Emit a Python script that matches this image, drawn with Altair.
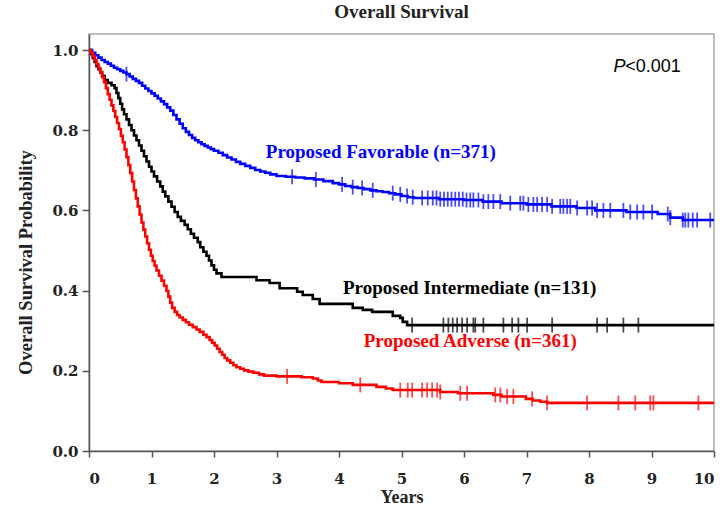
import altair as alt
import numpy as np
import pandas as pd

# ---- Kaplan-Meier step data ----
fav_t = [0, 0.05, 0.1, 0.15, 0.2, 0.25, 0.3, 0.35, 0.4, 0.45, 0.5, 0.55, 0.6, 0.65, 0.7, 0.75, 0.8, 0.85,
         0.9, 0.95, 1.0, 1.05, 1.1, 1.15, 1.2, 1.25, 1.3, 1.35, 1.4, 1.45, 1.5, 1.55, 1.6, 1.65, 1.7, 1.75,
         1.8, 1.85, 1.9, 1.95, 2.0, 2.07, 2.14, 2.21, 2.28, 2.35, 2.42, 2.5, 2.58, 2.66, 2.74, 2.82, 2.9,
         3.0, 3.15, 3.3, 3.45, 3.6, 3.75, 3.9, 4.0, 4.1, 4.2, 4.3, 4.4, 4.5, 4.6, 4.7, 4.8, 4.9, 5.0, 5.1,
         5.2, 5.6, 6.0, 6.3, 6.6, 7.0, 7.4, 7.8, 8.1, 8.6, 9.1, 9.3, 9.5, 10.0]
fav_s = [1.0, 0.993, 0.987, 0.981, 0.975, 0.97, 0.966, 0.961, 0.956, 0.952, 0.948, 0.944, 0.94, 0.934,
         0.928, 0.923, 0.918, 0.911, 0.904, 0.898, 0.892, 0.886, 0.879, 0.872, 0.865, 0.857, 0.849, 0.838,
         0.827, 0.816, 0.805, 0.796, 0.788, 0.781, 0.775, 0.77, 0.765, 0.761, 0.757, 0.753, 0.749, 0.744,
         0.738, 0.732, 0.727, 0.721, 0.716, 0.711, 0.706, 0.701, 0.697, 0.694, 0.69, 0.686, 0.684, 0.682,
         0.68, 0.677, 0.673, 0.668, 0.665, 0.661, 0.658, 0.656, 0.653, 0.65, 0.648, 0.646, 0.643, 0.64,
         0.636, 0.633, 0.631, 0.628, 0.626, 0.622, 0.618, 0.615, 0.61, 0.606, 0.6, 0.596, 0.591, 0.582,
         0.576, 0.576]
fav_c = [0.6, 3.25, 3.63, 4.05, 4.22, 4.37, 4.54, 4.86, 4.98, 5.09, 5.18, 5.33, 5.42, 5.5, 5.56, 5.62, 5.68,
         5.74, 5.8, 5.86, 5.92, 5.98, 6.04, 6.1, 6.15, 6.23, 6.31, 6.39, 6.47, 6.58, 6.74, 6.9, 6.95, 7.03,
         7.11, 7.17, 7.25, 7.33, 7.41, 7.54, 7.59, 7.65, 7.7, 7.81, 7.97, 8.05, 8.13, 8.23, 8.34, 8.55, 8.66,
         8.77, 8.87, 9.01, 9.26, 9.3, 9.5, 9.54, 9.59, 9.66, 9.73, 9.94]

int_t = [0, 0.03, 0.06, 0.09, 0.12, 0.15, 0.18, 0.21, 0.25, 0.3, 0.36, 0.41, 0.44, 0.47, 0.5, 0.53, 0.56,
         0.6, 0.64, 0.68, 0.72, 0.76, 0.8, 0.84, 0.88, 0.92, 0.96, 1.0, 1.04, 1.09, 1.14, 1.18, 1.22, 1.27,
         1.32, 1.37, 1.42, 1.47, 1.53, 1.58, 1.63, 1.68, 1.74, 1.78, 1.83, 1.88, 1.92, 1.96, 2.0, 2.04,
         2.12, 2.68, 2.89, 3.05, 3.33, 3.42, 3.58, 3.69, 4.22, 4.38, 4.53, 4.86, 4.98, 5.02, 5.09, 10.0]
int_s = [1.0, 0.99, 0.98, 0.97, 0.96, 0.952, 0.944, 0.935, 0.925, 0.918, 0.912, 0.905, 0.893, 0.88, 0.866,
         0.852, 0.84, 0.827, 0.813, 0.8, 0.787, 0.775, 0.762, 0.749, 0.735, 0.722, 0.709, 0.697, 0.685,
         0.672, 0.66, 0.647, 0.635, 0.622, 0.609, 0.596, 0.584, 0.574, 0.564, 0.553, 0.542, 0.532, 0.521,
         0.508, 0.497, 0.487, 0.475, 0.463, 0.452, 0.443, 0.434, 0.426, 0.419, 0.406, 0.397, 0.389, 0.379,
         0.367, 0.357, 0.352, 0.347, 0.337, 0.332, 0.322, 0.314, 0.314]
int_c = [5.17, 5.67, 5.75, 5.82, 5.89, 5.97, 6.05, 6.15, 6.18, 6.31, 6.63, 6.77, 6.87, 7.01, 7.41, 8.13,
         8.29, 8.55, 8.79]

adv_t = [0, 0.03, 0.06, 0.09, 0.12, 0.15, 0.18, 0.21, 0.24, 0.27, 0.3, 0.33, 0.36, 0.39, 0.42, 0.45, 0.48,
         0.51, 0.54, 0.57, 0.6, 0.63, 0.66, 0.69, 0.72, 0.75, 0.78, 0.81, 0.84, 0.87, 0.9, 0.93, 0.96, 0.99,
         1.02, 1.05, 1.08, 1.12, 1.16, 1.2, 1.24, 1.27, 1.3, 1.33, 1.37, 1.41, 1.45, 1.5, 1.55, 1.6, 1.66,
         1.72, 1.77, 1.83, 1.88, 1.93, 1.97, 2.01, 2.05, 2.09, 2.13, 2.17, 2.21, 2.26, 2.31, 2.36, 2.42,
         2.48, 2.55, 2.63, 2.72, 2.8, 3.0, 3.4, 3.58, 3.66, 3.72, 4.0, 4.22, 4.6, 4.75, 4.86, 5.62, 5.9,
         6.47, 6.6, 6.99, 7.1, 7.22, 7.33, 10.0]
adv_s = [1.0, 0.993, 0.985, 0.975, 0.965, 0.955, 0.945, 0.932, 0.92, 0.905, 0.89, 0.876, 0.862, 0.848,
         0.833, 0.818, 0.803, 0.786, 0.77, 0.752, 0.733, 0.713, 0.693, 0.672, 0.651, 0.63, 0.61, 0.59, 0.57,
         0.552, 0.535, 0.518, 0.502, 0.487, 0.474, 0.462, 0.45, 0.437, 0.425, 0.412, 0.399, 0.385, 0.37,
         0.357, 0.347, 0.339, 0.333, 0.327, 0.321, 0.315, 0.309, 0.303, 0.297, 0.29, 0.284, 0.277, 0.27,
         0.263, 0.255, 0.247, 0.24, 0.232, 0.226, 0.22, 0.214, 0.209, 0.205, 0.201, 0.198, 0.195, 0.191,
         0.188, 0.186, 0.184, 0.181, 0.176, 0.172, 0.169, 0.165, 0.16, 0.156, 0.152, 0.147, 0.144, 0.14,
         0.136, 0.13, 0.126, 0.123, 0.12, 0.12]
adv_c = [3.17, 4.34, 4.98, 5.1, 5.17, 5.33, 5.41, 5.49, 5.57, 5.62, 5.94, 6.05, 6.5, 6.58, 6.69, 6.79,
         7.09, 7.33, 7.97, 8.47, 8.74, 8.98, 9.03, 9.75]

groups = ["Favorable", "Intermediate", "Adverse"]
colors = ["#0000ff", "#000000", "#ff0000"]

label_text = ["Proposed Favorable (n=371)", "Proposed Intermediate (n=131)", "Proposed Adverse (n=361)"]
label_t = [4.67, 6.09, 6.1]
label_s = [0.746, 0.406, 0.274]

p_text = ["P", "<0.001"]
p_t = [8.39, 8.58]
p_s = [0.958, 0.958]

# ---- build tables ----
curve_rows, cens_rows = [], []
for g, ts, ss, cs in [("Favorable", fav_t, fav_s, fav_c),
                      ("Intermediate", int_t, int_s, int_c),
                      ("Adverse", adv_t, adv_s, adv_c)]:
    for t, s in zip(ts, ss):
        curve_rows.append({"group": g, "t": t, "s": s})
    ta = np.array(ts)
    for c in cs:
        idx = int(np.searchsorted(ta, c, side="right")) - 1
        cens_rows.append({"group": g, "t": c, "s": ss[idx]})
curves = pd.DataFrame(curve_rows)
cens = pd.DataFrame(cens_rows)
labels = pd.DataFrame({"group": groups, "text": label_text, "t": label_t, "s": label_s})
p_df = pd.DataFrame({"t": p_t, "s": p_s, "text": p_text})

color = alt.Color("group:N", scale=alt.Scale(domain=groups, range=colors), legend=None)

xscale = alt.Scale(domain=[0, 10], nice=False, zero=False)
yscale = alt.Scale(domain=[0, 1.04], nice=False)

xaxis = alt.Axis(values=list(range(11)), format="d", grid=False,
                 labelFont="DejaVu Serif", labelFontWeight="bold", labelFontSize=15, labelColor="#222",
                 labelPadding=14, tickSize=6, tickColor="#555", tickWidth=1.5,
                 domainColor="#555", domainWidth=1.5,
                 title="Years", titleFont="Liberation Serif", titleFontWeight="bold", titleFontSize=18,
                 titleColor="#222", titleY=46, titleBaseline="middle")
yaxis = alt.Axis(values=[0, 0.2, 0.4, 0.6, 0.8, 1.0], format=".1f", grid=False,
                 labelFont="DejaVu Serif", labelFontWeight="bold", labelFontSize=15, labelColor="#222",
                 labelPadding=4, tickSize=7, tickColor="#555", tickWidth=1.5,
                 domainColor="#555", domainWidth=1.5,
                 title="Overall Survival Probability", titleFont="Liberation Serif", titleFontWeight="bold",
                 titleFontSize=18.5, titleColor="#222", titleX=-64, titleY=228, titleAngle=270,
                 titleAlign="center", titleBaseline="middle")

lines = alt.Chart(curves).mark_line(interpolate="step-after", strokeWidth=2.6).encode(
    x=alt.X("t:Q", scale=xscale, axis=xaxis),
    y=alt.Y("s:Q", scale=yscale, axis=yaxis),
    color=color,
    detail="group:N",
)
ticks = alt.Chart(cens).mark_tick(orient="vertical", size=15, thickness=1.8).encode(
    x=alt.X("t:Q", scale=xscale),
    y=alt.Y("s:Q", scale=yscale),
    color=color,
)
lab = alt.Chart(labels).mark_text(font="Liberation Serif", fontWeight="bold", fontSize=19,
                                  align="center", baseline="middle").encode(
    x=alt.X("t:Q", scale=xscale),
    y=alt.Y("s:Q", scale=yscale),
    text="text:N",
    color=color,
)
p_italic = alt.Chart(p_df.iloc[[0]]).mark_text(font="Liberation Sans", fontSize=18, fontStyle="italic",
                                               align="left", baseline="middle", color="#000").encode(
    x=alt.X("t:Q", scale=xscale),
    y=alt.Y("s:Q", scale=yscale),
    text="text:N",
)
p_rest = alt.Chart(p_df.iloc[[1]]).mark_text(font="Liberation Sans", fontSize=18,
                                             align="left", baseline="middle", color="#000").encode(
    x=alt.X("t:Q", scale=xscale),
    y=alt.Y("s:Q", scale=yscale),
    text="text:N",
)

chart = alt.layer(lines, ticks, lab, p_italic, p_rest).properties(
    width=625, height=417,
    background="white",
    title=alt.TitleParams("Overall Survival", font="Liberation Serif", fontWeight="bold", fontSize=19,
                          color="#222", anchor="middle", offset=12),
    autosize=alt.AutoSizeParams(type="none"),
    padding={"left": 89, "top": 34, "right": 8, "bottom": 58},
).configure_view(stroke="#aaaaaa", strokeWidth=1.5)

chart.save("out.html", embed_options={"renderer": "svg", "actions": False})
